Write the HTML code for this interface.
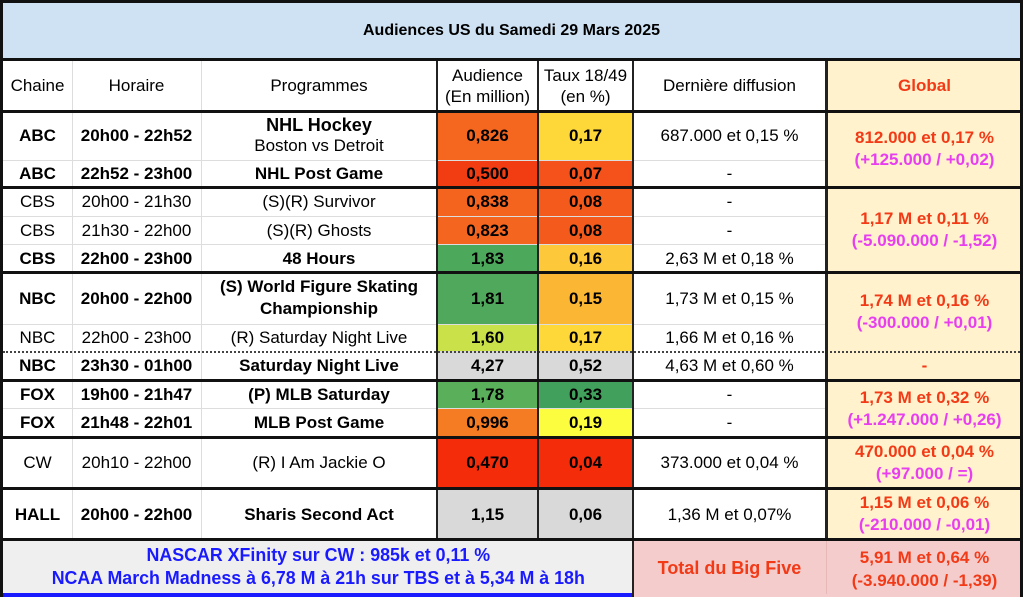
<!DOCTYPE html>
<html><head><meta charset="utf-8"><style>
body{margin:0;width:1023px;height:597px;position:relative;background:#fff;font-family:"Liberation Sans",Arial,sans-serif;overflow:hidden;color:#000}
.c{position:absolute;display:flex;align-items:center;justify-content:center;text-align:center;font-size:17px;line-height:21px;box-sizing:border-box;white-space:nowrap}
.b{font-weight:bold}
.r{color:#f23a17;font-weight:bold}
.m{color:#e83ef0;font-weight:bold}
.h{position:absolute;height:3px;background:#111;left:0;width:1023px}
.hl{position:absolute;height:1px;background:#ddd}
.v{position:absolute;width:2px;background:#222}
.vl{position:absolute;width:1px;background:#ddd}
</style></head><body>
<div class="c b" style="left:0;top:0;width:1023px;height:60px;background:#cfe2f3;font-size:16px">Audiences US du Samedi 29 Mars 2025</div>
<div class="c" style="left:826px;top:60px;width:197px;height:480px;background:#fff2cc"></div>
<div class="c" style="left:0;top:540px;width:633px;height:57px;background:#efefef"></div>
<div class="c" style="left:633px;top:540px;width:390px;height:57px;background:#f4cccc"></div>
<div style="position:absolute;left:0;top:593px;width:633px;height:4px;background:#1a1aff"></div>

<div class="c" style="left:3px;top:60px;width:69px;height:51px">Chaine</div>
<div class="c" style="left:72px;top:60px;width:129px;height:51px">Horaire</div>
<div class="c" style="left:201px;top:60px;width:236px;height:51px">Programmes</div>
<div class="c" style="left:437px;top:60px;width:101px;height:51px">Audience<br>(En million)</div>
<div class="c" style="left:538px;top:60px;width:95px;height:51px">Taux 18/49<br>(en %)</div>
<div class="c" style="left:633px;top:60px;width:193px;height:51px">Dernière diffusion</div>
<div class="c r" style="left:826px;top:60px;width:197px;height:51px">Global</div>

<div class="c b" style="left:3px;top:111px;width:69px;height:49px">ABC</div>
<div class="c b" style="left:72px;top:111px;width:129px;height:49px">20h00 - 22h52</div>
<div class="c" style="left:201px;top:111px;width:236px;height:49px;line-height:20px"><span><b style="font-size:18px">NHL Hockey</b><br>Boston vs Detroit</span></div>
<div class="c b" style="left:437px;top:111px;width:101px;height:49px;background:#f5661f">0,826</div>
<div class="c b" style="left:538px;top:111px;width:95px;height:49px;background:#fed838">0,17</div>
<div class="c" style="left:633px;top:111px;width:193px;height:49px">687.000 et 0,15 %</div>

<div class="c b" style="left:3px;top:160px;width:69px;height:27px">ABC</div>
<div class="c b" style="left:72px;top:160px;width:129px;height:27px">22h52 - 23h00</div>
<div class="c b" style="left:201px;top:160px;width:236px;height:27px">NHL Post Game</div>
<div class="c b" style="left:437px;top:160px;width:101px;height:27px;background:#f23c12">0,500</div>
<div class="c b" style="left:538px;top:160px;width:95px;height:27px;background:#f4511b">0,07</div>
<div class="c" style="left:633px;top:160px;width:193px;height:27px">-</div>
<div class="c r" style="left:826px;top:111px;width:197px;height:76px;line-height:22px"><span>812.000 et 0,17 %<br><span class="m">(+125.000 / +0,02)</span></span></div>

<div class="c" style="left:3px;top:187px;width:69px;height:29px">CBS</div>
<div class="c" style="left:72px;top:187px;width:129px;height:29px">20h00 - 21h30</div>
<div class="c" style="left:201px;top:187px;width:236px;height:29px">(S)(R) Survivor</div>
<div class="c b" style="left:437px;top:187px;width:101px;height:29px;background:#f4641e">0,838</div>
<div class="c b" style="left:538px;top:187px;width:95px;height:29px;background:#f45a1c">0,08</div>
<div class="c" style="left:633px;top:187px;width:193px;height:29px">-</div>

<div class="c" style="left:3px;top:216px;width:69px;height:28px">CBS</div>
<div class="c" style="left:72px;top:216px;width:129px;height:28px">21h30 - 22h00</div>
<div class="c" style="left:201px;top:216px;width:236px;height:28px">(S)(R) Ghosts</div>
<div class="c b" style="left:437px;top:216px;width:101px;height:28px;background:#f4661f">0,823</div>
<div class="c b" style="left:538px;top:216px;width:95px;height:28px;background:#f45a1c">0,08</div>
<div class="c" style="left:633px;top:216px;width:193px;height:28px">-</div>

<div class="c b" style="left:3px;top:244px;width:69px;height:28px">CBS</div>
<div class="c b" style="left:72px;top:244px;width:129px;height:28px">22h00 - 23h00</div>
<div class="c b" style="left:201px;top:244px;width:236px;height:28px">48 Hours</div>
<div class="c b" style="left:437px;top:244px;width:101px;height:28px;background:#4ca85b">1,83</div>
<div class="c b" style="left:538px;top:244px;width:95px;height:28px;background:#fdc83a">0,16</div>
<div class="c" style="left:633px;top:244px;width:193px;height:28px">2,63 M et 0,18 %</div>
<div class="c r" style="left:826px;top:187px;width:197px;height:85px;line-height:22px"><span>1,17 M et 0,11 %<br><span class="m">(-5.090.000 / -1,52)</span></span></div>

<div class="c b" style="left:3px;top:272px;width:69px;height:52px">NBC</div>
<div class="c b" style="left:72px;top:272px;width:129px;height:52px">20h00 - 22h00</div>
<div class="c b" style="left:201px;top:272px;width:236px;height:52px;line-height:22px">(S) World Figure Skating<br>Championship</div>
<div class="c b" style="left:437px;top:272px;width:101px;height:52px;background:#4fa85b">1,81</div>
<div class="c b" style="left:538px;top:272px;width:95px;height:52px;background:#fbb733">0,15</div>
<div class="c" style="left:633px;top:272px;width:193px;height:52px">1,73 M et 0,15 %</div>

<div class="c" style="left:3px;top:324px;width:69px;height:27px">NBC</div>
<div class="c" style="left:72px;top:324px;width:129px;height:27px">22h00 - 23h00</div>
<div class="c" style="left:201px;top:324px;width:236px;height:27px">(R) Saturday Night Live</div>
<div class="c b" style="left:437px;top:324px;width:101px;height:27px;background:#cbe14a">1,60</div>
<div class="c b" style="left:538px;top:324px;width:95px;height:27px;background:#fed838">0,17</div>
<div class="c" style="left:633px;top:324px;width:193px;height:27px">1,66 M et 0,16 %</div>
<div class="c r" style="left:826px;top:272px;width:197px;height:79px;line-height:22px"><span>1,74 M et 0,16 %<br><span class="m">(-300.000 / +0,01)</span></span></div>

<div class="c b" style="left:3px;top:351px;width:69px;height:29px">NBC</div>
<div class="c b" style="left:72px;top:351px;width:129px;height:29px">23h30 - 01h00</div>
<div class="c b" style="left:201px;top:351px;width:236px;height:29px">Saturday Night Live</div>
<div class="c b" style="left:437px;top:351px;width:101px;height:29px;background:#d9d9d9">4,27</div>
<div class="c b" style="left:538px;top:351px;width:95px;height:29px;background:#d9d9d9">0,52</div>
<div class="c" style="left:633px;top:351px;width:193px;height:29px">4,63 M et 0,60 %</div>
<div class="c r" style="left:826px;top:351px;width:197px;height:29px">-</div>

<div class="c b" style="left:3px;top:380px;width:69px;height:28px">FOX</div>
<div class="c b" style="left:72px;top:380px;width:129px;height:28px">19h00 - 21h47</div>
<div class="c b" style="left:201px;top:380px;width:236px;height:28px">(P) MLB Saturday</div>
<div class="c b" style="left:437px;top:380px;width:101px;height:28px;background:#5ab05a">1,78</div>
<div class="c b" style="left:538px;top:380px;width:95px;height:28px;background:#40a05c">0,33</div>
<div class="c" style="left:633px;top:380px;width:193px;height:28px">-</div>

<div class="c b" style="left:3px;top:408px;width:69px;height:29px">FOX</div>
<div class="c b" style="left:72px;top:408px;width:129px;height:29px">21h48 - 22h01</div>
<div class="c b" style="left:201px;top:408px;width:236px;height:29px">MLB Post Game</div>
<div class="c b" style="left:437px;top:408px;width:101px;height:29px;background:#f57c22">0,996</div>
<div class="c b" style="left:538px;top:408px;width:95px;height:29px;background:#fdfd40">0,19</div>
<div class="c" style="left:633px;top:408px;width:193px;height:29px">-</div>
<div class="c r" style="left:826px;top:380px;width:197px;height:57px;line-height:22px"><span>1,73 M et 0,32 %<br><span class="m">(+1.247.000 / +0,26)</span></span></div>

<div class="c" style="left:3px;top:437px;width:69px;height:51px">CW</div>
<div class="c" style="left:72px;top:437px;width:129px;height:51px">20h10 - 22h00</div>
<div class="c" style="left:201px;top:437px;width:236px;height:51px">(R) I Am Jackie O</div>
<div class="c b" style="left:437px;top:437px;width:101px;height:51px;background:#f42c0a">0,470</div>
<div class="c b" style="left:538px;top:437px;width:95px;height:51px;background:#f42c0a">0,04</div>
<div class="c" style="left:633px;top:437px;width:193px;height:51px">373.000 et 0,04 %</div>
<div class="c r" style="left:826px;top:437px;width:197px;height:51px;line-height:22px"><span>470.000 et 0,04 %<br><span class="m">(+97.000 / =)</span></span></div>

<div class="c b" style="left:3px;top:488px;width:69px;height:52px">HALL</div>
<div class="c b" style="left:72px;top:488px;width:129px;height:52px">20h00 - 22h00</div>
<div class="c b" style="left:201px;top:488px;width:236px;height:52px">Sharis Second Act</div>
<div class="c b" style="left:437px;top:488px;width:101px;height:52px;background:#d9d9d9">1,15</div>
<div class="c b" style="left:538px;top:488px;width:95px;height:52px;background:#d9d9d9">0,06</div>
<div class="c" style="left:633px;top:488px;width:193px;height:52px">1,36 M et 0,07%</div>
<div class="c r" style="left:826px;top:488px;width:197px;height:52px;line-height:22px"><span>1,15 M et 0,06 %<br><span class="m">(-210.000 / -0,01)</span></span></div>

<div class="c b" style="left:3px;top:541px;width:630px;height:52px;color:#1a1aff;line-height:23px;font-size:18px"><span style="display:inline-block;transform:scaleX(0.99);white-space:nowrap">NASCAR XFinity sur CW : 985k et 0,11 %<br>NCAA March Madness à 6,78 M à 21h sur TBS et à 5,34 M à 18h</span></div>
<div class="c r" style="left:633px;top:540px;width:193px;height:57px;font-size:18px">Total du Big Five</div>
<div class="c r" style="left:826px;top:540px;width:197px;height:57px;line-height:23px"><span>5,91 M et 0,64 %<br>(-3.940.000 / -1,39)</span></div>

<div class="vl" style="left:72px;top:60px;height:480px"></div>
<div class="vl" style="left:201px;top:60px;height:480px"></div>
<div class="hl" style="left:3px;top:160px;width:823px"></div>
<div class="hl" style="left:3px;top:216px;width:823px"></div>
<div class="hl" style="left:3px;top:244px;width:823px"></div>
<div class="hl" style="left:3px;top:324px;width:823px"></div>
<div class="hl" style="left:3px;top:408px;width:823px"></div>
<div class="vl" style="left:826px;top:541px;height:53px;background:#e6b8b8"></div>
<div style="position:absolute;left:3px;top:351px;width:1017px;border-top:2px dotted #444"></div>
<div class="v" style="left:436px;top:60px;height:480px"></div>
<div class="v" style="left:537px;top:60px;height:480px"></div>
<div class="v" style="left:632px;top:60px;height:537px"></div>
<div class="v" style="left:825px;top:60px;height:480px;width:3px"></div>
<div class="h" style="top:58px"></div>
<div class="h" style="top:110px"></div>
<div class="h" style="top:186px"></div>
<div class="h" style="top:271px"></div>
<div class="h" style="top:379px"></div>
<div class="h" style="top:436px"></div>
<div class="h" style="top:487px"></div>
<div class="h" style="top:538px"></div>
<div style="position:absolute;left:0;top:0;width:1023px;height:597px;box-sizing:border-box;border:3px solid #111;border-bottom:none"></div>
</body></html>
